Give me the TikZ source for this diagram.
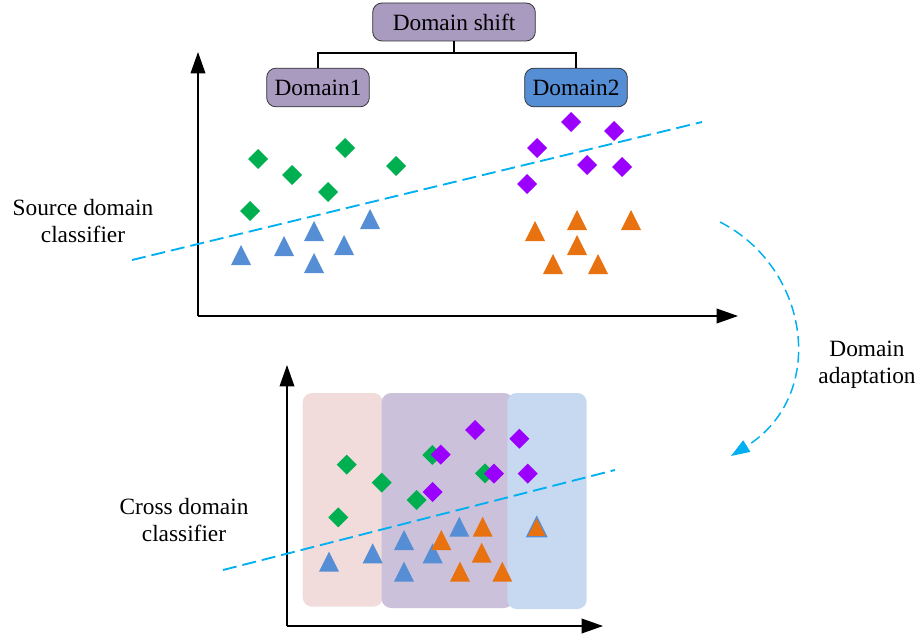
\documentclass[tikz,border=0pt]{standalone}
\usepackage{fontspec}
\setmainfont{Liberation Serif}
\usetikzlibrary{arrows.meta}
\definecolor{boxpur}{HTML}{A99AC0}
\definecolor{boxblue}{HTML}{558ED5}
\definecolor{mgreen}{HTML}{00B050}
\definecolor{mpurple}{HTML}{9B00FF}
\definecolor{mblue}{HTML}{558ED5}
\definecolor{morange}{HTML}{E8720F}
\definecolor{clsblue}{HTML}{00B0F0}
\definecolor{bgpink}{HTML}{F2DCDB}
\definecolor{bgpur}{HTML}{CCC1DA}
\definecolor{bgblue}{HTML}{C6D9F1}
\begin{document}
\begin{tikzpicture}[x=0.75pt,y=-0.75pt,
  font=\fontsize{17.5pt}{20.6pt}\selectfont,
  domainbox/.style={draw=black!80, line width=0.6pt, rounded corners=7pt, minimum height=29pt, inner sep=2pt},
  axisline/.style={line width=1.1pt, -{Triangle[length=16pt,width=11pt]}},
  clsline/.style={clsblue, line width=1.4pt, dash pattern=on 10.5pt off 4.5pt},
  adaptline/.style={clsblue, line width=1.1pt, dash pattern=on 8pt off 4pt, -{Triangle[length=14pt,width=10pt]}},
  lbl/.style={align=center, anchor=base},
  dia/.pic={\path[pic actions] (0,-10)--(10,0)--(0,10)--(-10,0)--cycle;},
  tri/.pic={\path[pic actions] (-10,10)--(0,-10)--(10,10)--cycle;},
]
\useasboundingbox (0,0) rectangle (916,638);

% ---------- hierarchy ----------
\node[domainbox, fill=boxpur, minimum width=122pt, minimum height=28.5pt] (shift) at (454,22) {Domain shift};
\node[domainbox, fill=boxpur, minimum width=77pt] (d1) at (318,87.5) {Domain1};
\node[domainbox, fill=boxblue, minimum width=77pt] (d2) at (576,87.5) {Domain2};
\coordinate (j) at (454,53);
\draw[line width=0.9pt] (shift.south) -- (j);
\draw[line width=0.9pt] (j) -| (d1.north);
\draw[line width=0.9pt] (j) -| (d2.north);

% ---------- top plot ----------
\coordinate (o1) at (198,316);
\coordinate (y1) at (198,52);
\coordinate (x1) at (738,316);
\draw[axisline] (o1) -- (y1);
\draw[axisline] (o1) -- (x1);

\foreach \p in {(258,159),(292,175),(345,148),(396,166),(328,192),(250,211)}
  \pic[fill=mgreen] at \p {dia};
\foreach \p in {(241,255),(284,246),(314,231),(344,245),(370,219),(314,263)}
  \pic[fill=mblue] at \p {tri};
\foreach \p in {(571,122),(614,131),(537,148),(587,165),(622,167),(527,184)}
  \pic[fill=mpurple] at \p {dia};
\foreach \p in {(535,231),(577,220),(631,220),(577,245),(553,264),(598,264)}
  \pic[fill=morange] at \p {tri};

\coordinate (c1a) at (132,260);
\coordinate (c1b) at (702,122);
\draw[clsline] (c1a) -- (c1b);

\node[lbl] (srclbl) at (83,242.5) {Source domain\\classifier};

% ---------- adaptation arrow ----------
\coordinate (aa) at (720,222);
\coordinate (ab) at (731,456);
\draw[adaptline] (aa) .. controls (810,268) and (828,395) .. (ab);
\node[lbl] (adlbl) at (867,383.5) {Domain\\adaptation};

% ---------- bottom plot ----------
\fill[bgpink, rounded corners=7pt] (302.7,393) rectangle (382.7,606.7);
\fill[bgpur, rounded corners=7pt] (381.7,393) rectangle (513.3,608);
\fill[bgblue, rounded corners=7pt] (507.3,393) rectangle (586.7,609);

\coordinate (o2) at (287,626);
\coordinate (y2) at (287,365);
\coordinate (x2) at (603,626);
\draw[axisline] (o2) -- (y2);
\draw[axisline] (o2) -- (x2);

\foreach \p in {(346.7,464.7),(381.7,482.7),(416.7,500),(338.3,517.3),(432.3,455),(485,473.3)}
  \pic[fill=mgreen] at \p {dia};
\foreach \p in {(475,430),(519.3,438.7),(440.7,454.7),(494,473.7),(527.7,473.7),(432.7,492)}
  \pic[fill=mpurple] at \p {dia};
\foreach \p in {(329,561.7),(372.7,553.3),(404,540),(404,571.7),(432.7,553.3),(459.3,526.7)}
  \pic[fill=mblue] at \p {tri};
\foreach \p in {(441.3,540),(482.7,526.7),(481.7,552.7),(460,571.7),(502.3,571.7)}
  \pic[fill=morange] at \p {tri};
\pic[fill=morange, draw=mblue, line width=0.9pt] at (536.7,526.7) {tri};

\coordinate (c2a) at (223,570);
\coordinate (c2b) at (615,470);
\draw[clsline] (c2a) -- (c2b);

\node[lbl] (crosslbl) at (184,541.5) {Cross domain\\classifier};
\end{tikzpicture}
\end{document}
